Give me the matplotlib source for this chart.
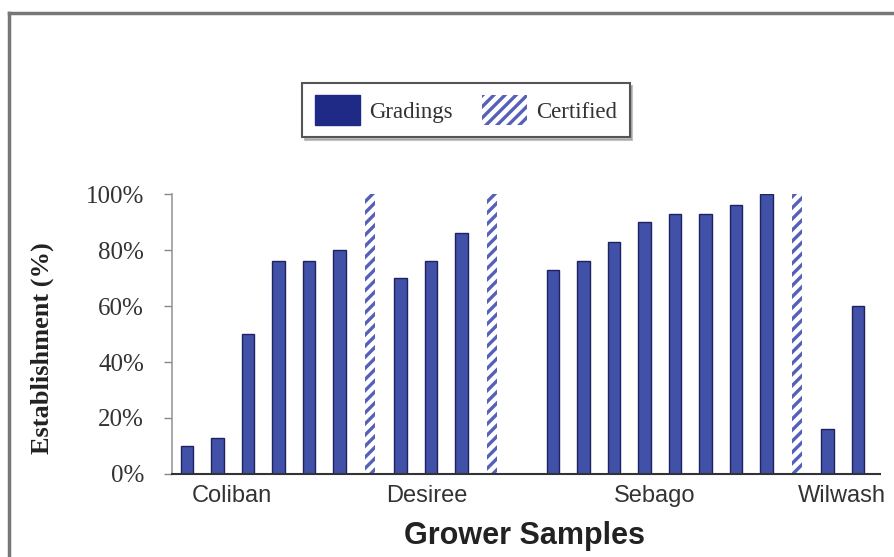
import numpy as np
import matplotlib
matplotlib.use("Agg")
import matplotlib.pyplot as plt
from matplotlib.patches import Patch
from matplotlib.lines import Line2D

# ---- data ----
establishment = [10, 13, 50, 76, 76, 80, 100,
                 70, 76, 86, 100,
                 np.nan,
                 73, 76, 83, 90, 93, 93, 96, 100, 100,
                 16, 60]
source = (['Gradings'] * 6 + ['Certified'] +
          ['Gradings'] * 3 + ['Certified'] +
          [''] +
          ['Gradings'] * 8 + ['Certified'] +
          ['Gradings'] * 2)
varieties = ['Coliban', 'Desiree', 'Sebago', 'Wilwash']
variety_pos = [1.48, 7.87, 15.34, 21.48]
yticks = [0, 20, 40, 60, 80, 100]
ytick_labels = ['0%', '20%', '40%', '60%', '80%', '100%']

bar_face = '#4251a8'
bar_edge = '#1e2260'
hatch_col = '#5560b8'

plt.rcParams['hatch.linewidth'] = 2.4

fig = plt.figure(figsize=(8.95, 5.57), dpi=100)
fig.patch.set_facecolor('white')
ax = fig.add_axes([172/895, 83/557, (880-172)/895, (474-194)/557])

x = np.arange(len(establishment))
vals = np.array(establishment, dtype=float)
g = np.array([s == 'Gradings' for s in source])
c = np.array([s == 'Certified' for s in source])

ax.bar(x[g], vals[g], width=0.4, color=bar_face, edgecolor=bar_edge, linewidth=1.0, zorder=2)
ax.bar(x[c], vals[c], width=0.34, facecolor='white', edgecolor=hatch_col, hatch='///', linewidth=0, zorder=2)

ax.set_xlim(-0.49, 22.72)
ax.set_ylim(0, 100)
ax.set_yticks(yticks)
ax.set_yticklabels(ytick_labels, fontfamily='Liberation Serif', fontsize=18, color='#333333')
ax.tick_params(axis='y', direction='out', length=6, width=1, color='#888888', pad=14)
ax.set_xticks(variety_pos)
ax.set_xticklabels(varieties, fontfamily='Liberation Sans', fontsize=17, color='#333333')
ax.tick_params(axis='x', length=0, pad=8)

for s in ['top', 'right']:
    ax.spines[s].set_visible(False)
ax.spines['left'].set_color('#999999')
ax.spines['left'].set_linewidth(1.2)
ax.spines['bottom'].set_color('#333333')
ax.spines['bottom'].set_linewidth(1.5)

fig.text(42/895, 1 - 348/557, 'Establishment (%)', rotation=90, ha='center', va='center',
         fontfamily='Liberation Serif', fontweight='bold', fontsize=19, color='#222222')
fig.text(524/895, 1 - 544/557, 'Grower Samples', ha='center', va='baseline',
         fontfamily='Liberation Sans', fontweight='bold', fontsize=22, color='#222222')

handles = [Patch(facecolor='#1f2a86', edgecolor='#1f2a86'),
           Patch(facecolor='white', edgecolor=hatch_col, hatch='///', linewidth=0)]
leg = fig.legend(handles, ['Gradings', 'Certified'], ncol=2,
                 loc='center', bbox_to_anchor=(466/895, 1 - 110/557),
                 prop={'family': 'Liberation Serif', 'size': 16.5},
                 frameon=True, fancybox=False, shadow={'color': '#888888'},
                 handlelength=1.95, handleheight=1.57, handletextpad=0.4,
                 columnspacing=1.3, borderpad=0.55, borderaxespad=0,
                 edgecolor='#555555')
leg.get_frame().set_linewidth(1.5)
for t in leg.get_texts():
    t.set_color('#333333')

# outer frame
fig.add_artist(Line2D([9/895, 9/895], [0, 1 - 13/557], transform=fig.transFigure,
                      color='#777777', lw=2.5))
fig.add_artist(Line2D([9/895, 1], [1 - 13/557, 1 - 13/557], transform=fig.transFigure,
                      color='#777777', lw=2.5))

fig.savefig('out.png', dpi=100)
